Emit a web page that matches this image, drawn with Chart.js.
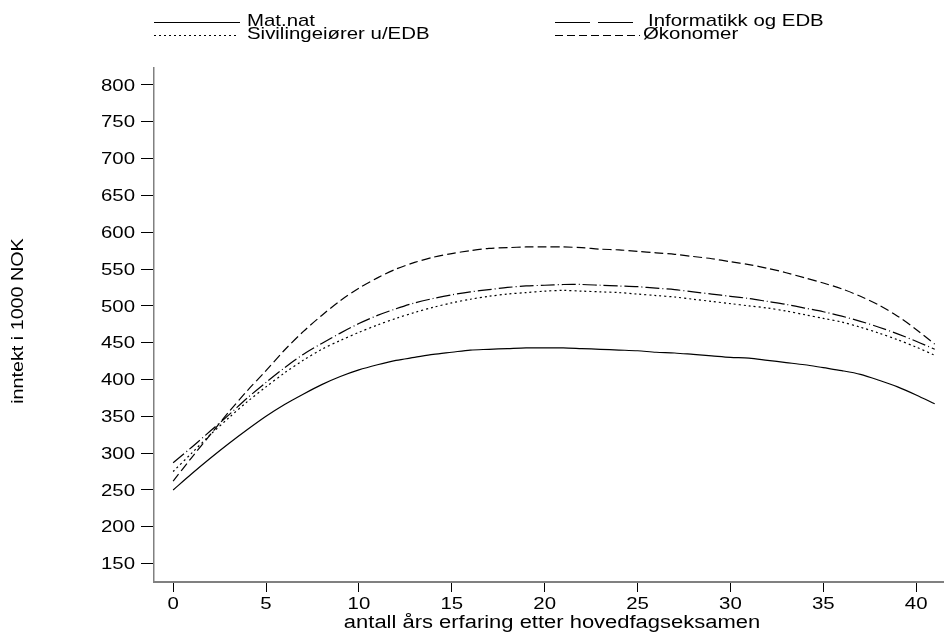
<!DOCTYPE html>
<html>
<head>
<meta charset="utf-8">
<script src="https://cdn.jsdelivr.net/npm/chart.js@4"></script>
<style>
  body { margin: 0; background: #fff; }
  canvas { display: block; }
</style>
</head>
<body>
<canvas id="myChart" width="944" height="640"></canvas>
<script>
// years of experience
var years = [];
for (var i = 0; i <= 41; i++) years.push(i);

var matnat = [250, 272, 293, 313, 332, 350, 366, 380, 393, 404, 413, 420, 426, 430, 434, 437, 440, 441, 442, 443, 443,
              443, 442, 441, 440, 439, 437, 436, 434, 432, 430, 429, 426, 423, 420, 416, 412, 407, 399, 390, 379, 367];
var informatikk = [287, 308, 330, 352, 375, 396, 416, 434, 449, 463, 476, 487, 496, 504, 510, 515, 519, 522, 525, 527, 528,
                   529, 529, 528, 527, 526, 524, 522, 519, 516, 513, 510, 506, 502, 497, 492, 486, 479, 471, 462, 452, 441];
var siviling = [275, 300, 325, 348, 370, 390, 409, 426, 441, 453, 464, 474, 483, 491, 498, 504, 509, 513, 516, 518, 520,
                521, 520, 519, 518, 516, 514, 512, 509, 506, 503, 500, 497, 493, 488, 483, 478, 471, 463, 454, 444, 433];
var okonomer = [262, 294, 325, 356, 385, 412, 440, 465, 487, 507, 524, 538, 550, 559, 566, 571, 575, 578, 579, 580, 580,
                580, 579, 577, 576, 574, 572, 570, 567, 564, 560, 556, 551, 545, 538, 531, 523, 513, 501, 486, 468, 448];

var xTicks = [0, 5, 10, 15, 20, 25, 30, 35, 40];
var yTicks = [150, 200, 250, 300, 350, 400, 450, 500, 550, 600, 650, 700, 750, 800];

var labels = ['Mat.nat', 'Informatikk og EDB', 'Sivilingeiører u/EDB', 'Økonomer'];
var xTitle = 'antall års erfaring etter hovedfagseksamen';
var yTitle = 'inntekt i 1000 NOK';
var series = [matnat, informatikk, siviling, okonomer];
var dashes = [[], [14, 3, 1, 3], [2, 3], [9, 4]];
var legendDashes = [[], [35, 8, 40], [2, 3], [8, 4]];

var FONT = "'Liberation Sans', Arial, sans-serif";

function pts(arr) {
    return arr.map(function (v, i) { return { x: years[i], y: v }; });
}

var datasets = [];
for (var s = 0; s < series.length; s++) {
    datasets.push({
        label: labels[s],
        data: pts(series[s]),
        borderColor: '#000',
        borderWidth: 1.2,
        borderDash: dashes[s],
        pointRadius: 0,
        tension: 0.3,
        fill: false
    });
}

// the original uses a wide helvetica, so text is stretched sideways
function wideText(ctx, txt, x, y, align, sx, size, rot) {
    ctx.save();
    ctx.translate(x, y);
    if (rot) ctx.rotate(rot);
    ctx.scale(sx, 1);
    ctx.font = size + 'px ' + FONT;
    ctx.fillStyle = '#000';
    ctx.textAlign = align;
    ctx.textBaseline = 'middle';
    ctx.fillText(txt, 0, 0);
    ctx.restore();
}

var textPlugin = {
    id: 'axisText',
    afterDraw: function (chart) {
        var ctx = chart.ctx;
        var xs = chart.scales.x;
        var ys = chart.scales.y;

        yTicks.forEach(function (v) {
            wideText(ctx, String(v), 135, ys.getPixelForValue(v) + 1, 'right', 1.2, 17);
        });
        xTicks.forEach(function (v) {
            wideText(ctx, String(v), xs.getPixelForValue(v), 604, 'center', 1.2, 17);
        });
        wideText(ctx, xTitle, 552, 623, 'center', 1.22, 18);
        wideText(ctx, yTitle, 18, 321, 'center', 1.16, 17, -Math.PI / 2);

        // legend
        var items = [
            { x1: 154, x2: 240, tx: 247, y: 22, i: 0 },
            { x1: 555, x2: 633, tx: 648, y: 22, i: 1 },
            { x1: 154, x2: 236, tx: 247, y: 35, i: 2 },
            { x1: 555, x2: 640, tx: 643, y: 35, i: 3 }
        ];
        items.forEach(function (it) {
            ctx.save();
            ctx.beginPath();
            ctx.setLineDash(legendDashes[it.i]);
            ctx.lineWidth = 1.2;
            ctx.strokeStyle = '#000';
            ctx.moveTo(it.x1, it.y + 0.5);
            ctx.lineTo(it.x2, it.y + 0.5);
            ctx.stroke();
            ctx.restore();
            wideText(ctx, labels[it.i], it.tx, it.y - 1, 'left', 1.2, 17);
        });
    }
};

var myChart = new Chart(document.getElementById('myChart').getContext('2d'), {
    type: 'line',
    data: { datasets: datasets },
    options: {
        responsive: false,
        animation: false,
        layout: { padding: { top: 68, left: 0, right: 0, bottom: 0 } },
        plugins: { legend: { display: false }, tooltip: { enabled: false } },
        scales: {
            x: {
                type: 'linear',
                min: -1.03,
                max: 41.5,
                afterBuildTicks: function (scale) {
                    scale.ticks = xTicks.map(function (v) { return { value: v }; });
                },
                afterFit: function (scale) { scale.height = 58; },
                grid: { drawOnChartArea: false, drawTicks: true, tickLength: 10, color: '#000' },
                border: { display: true, color: '#808080', width: 2 },
                ticks: { display: false }
            },
            y: {
                type: 'linear',
                min: 125,
                max: 823,
                afterBuildTicks: function (scale) {
                    scale.ticks = yTicks.map(function (v) { return { value: v }; });
                },
                afterFit: function (scale) { scale.width = 154; },
                grid: { drawOnChartArea: false, drawTicks: true, tickLength: 13, color: '#000' },
                border: { display: true, color: '#808080', width: 1.5 },
                ticks: { display: false }
            }
        }
    },
    plugins: [textPlugin]
});
</script>
</body>
</html>
